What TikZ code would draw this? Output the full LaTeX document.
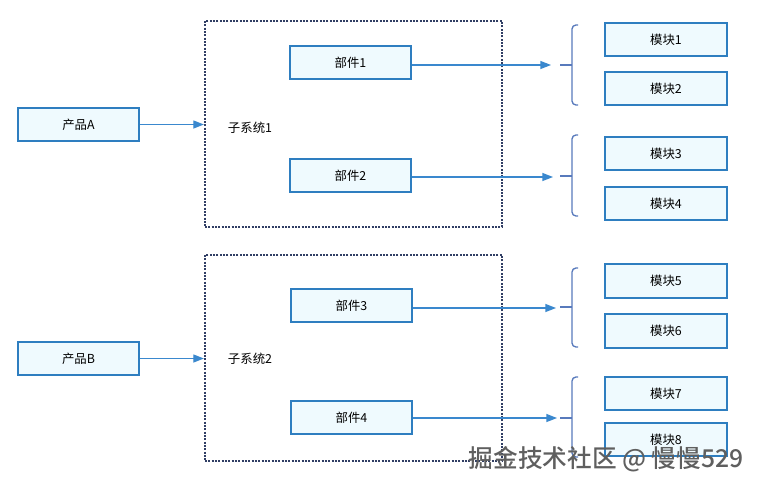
\documentclass[tikz,border=0pt]{standalone}
\usepackage{fontspec}
\newfontfamily\cjk{Noto Sans CJK SC}
\newfontfamily\cjkmed{Noto Sans CJK SC Medium}
\usetikzlibrary{arrows.meta}
\definecolor{boxline}{RGB}{46,126,192}
\definecolor{boxfill}{RGB}{239,250,254}
\definecolor{arrowc}{RGB}{58,136,206}
\definecolor{bracec}{RGB}{88,122,188}
\definecolor{dotc}{RGB}{48,62,100}
\definecolor{wmark}{RGB}{95,95,95}
\begin{document}
\begin{tikzpicture}[x=0.75pt,y=-0.75pt,
  font=\cjk\fontsize{9.3}{11}\selectfont,
  blk/.style={draw=boxline, fill=boxfill, line width=1.5pt, minimum width=91pt, minimum height=25pt, inner sep=0pt},
  arr/.style={draw=arrowc, line width=1pt, -{Triangle[length=8pt,width=6pt]}},
  sys/.style={draw=dotc, line width=1.6pt, dash pattern=on 1.5pt off 1pt, inner sep=0pt},
  bracket/.style={draw=bracec, line width=1pt, rounded corners=3pt},
  lbl/.style={inner sep=0pt}]
\useasboundingbox (0,0) rectangle (762,489);
\fill[white] (0,0) rectangle (762,489);

% products
\node[blk] (pA) at (78.5,124.5) {产品A};
\node[blk] (pB) at (78.5,358.5) {产品B};

% subsystems
\node[sys, minimum width=222.75pt, minimum height=154.5pt] (s1) at (353.5,124) {};
\node[sys, minimum width=222.75pt, minimum height=154.5pt] (s2) at (353.5,358) {};
\node[lbl] (s1l) at (250,128) {子系统1};
\node[lbl] (s2l) at (250,359) {子系统2};

% parts
\node[blk] (c1) at (350.5,62.5) {部件1};
\node[blk] (c2) at (350.5,175.5) {部件2};
\node[blk] (c3) at (351.5,305.5) {部件3};
\node[blk] (c4) at (351.5,417.5) {部件4};

% modules
\node[blk] (m1) at (666,39.5) {模块1};
\node[blk] (m2) at (666,88.5) {模块2};
\node[blk] (m3) at (666,153.5) {模块3};
\node[blk] (m4) at (666,203.5) {模块4};
\node[blk] (m5) at (666,281) {模块5};
\node[blk] (m6) at (666,331) {模块6};
\node[blk] (m7) at (666,393.5) {模块7};
\node[blk] (m8) at (666,439.5) {模块8};

% arrows product -> subsystem
\draw[arr] (pA.east) -- (s1.west |- pA.east);
\draw[arr] (pB.east) -- (s2.west |- pB.east);

% arrow targets
\coordinate (t1) at (551,65);
\coordinate (t2) at (553,177);
\coordinate (t3) at (556,308);
\coordinate (t4) at (557,418);
\draw[arr] (c1.east |- t1) -- (t1);
\draw[arr] (c2.east |- t2) -- (t2);
\draw[arr] (c3.east |- t3) -- (t3);
\draw[arr] (c4.east |- t4) -- (t4);

% brackets
\foreach \top/\mid/\bot in {25/65/105, 135/176/216, 268/307/347, 377/418/457}{
  \draw[bracket] (578,\top) -- (572,\top) -- (572,\bot) -- (578,\bot);
  \draw[draw=bracec, line width=1pt] (560,\mid) -- (572,\mid);
}

% watermark
\node[lbl, text=wmark, font=\cjkmed\fontsize{18.5}{22}\selectfont] (wm) at (606,459) {掘金技术社区 @ 慢慢529};
\end{tikzpicture}
\end{document}
